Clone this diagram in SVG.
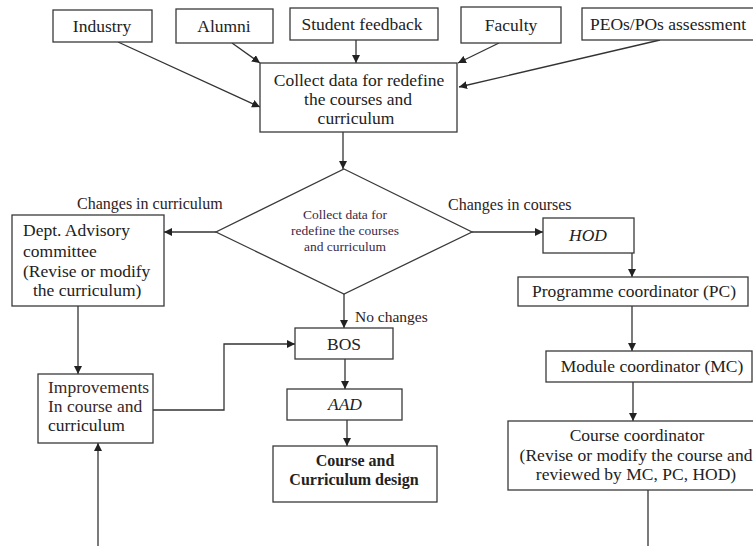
<svg xmlns="http://www.w3.org/2000/svg" width="753" height="546" viewBox="0 0 753 546">
<defs>
<marker id="ah" markerUnits="userSpaceOnUse" markerWidth="9" markerHeight="8" refX="8" refY="4" orient="auto">
<path d="M0,0 L8,4 L0,8 z" fill="#222"/>
</marker>
<style>
.box{fill:#fff;stroke:#3a3a3a;stroke-width:1.3}
.t{font-family:"Liberation Serif","Times New Roman",serif;font-size:17.5px;fill:#222}
.c{text-anchor:middle}
.lbl{font-family:"Liberation Serif","Times New Roman",serif;font-size:16px;fill:#2e2222}
.dt{font-family:"Liberation Serif","Times New Roman",serif;font-size:13.5px;fill:#3a2a48;text-anchor:middle}
.it{font-style:italic}
.b{font-weight:bold;font-size:16px}
.ln{fill:none;stroke:#333;stroke-width:1.3}
.ar{marker-end:url(#ah)}
</style>
</defs>
<rect width="753" height="546" fill="#fff"/>

<g id="connectors">
<line class="ln ar" x1="118" y1="42" x2="260" y2="107"/>
<line class="ln ar" x1="232" y1="43" x2="260" y2="63"/>
<line class="ln ar" x1="356" y1="40" x2="356" y2="63"/>
<line class="ln ar" x1="499" y1="43" x2="458" y2="63"/>
<line class="ln ar" x1="660" y1="40" x2="459" y2="87"/>
<line class="ln ar" x1="343" y1="132" x2="343" y2="169"/>
<line class="ln ar" x1="216" y1="232" x2="164" y2="232"/>
<line class="ln ar" x1="472" y1="232" x2="543" y2="232"/>
<line class="ln ar" x1="344" y1="294" x2="344" y2="328"/>
<line class="ln ar" x1="632" y1="253" x2="632" y2="277"/>
<line class="ln ar" x1="632" y1="306" x2="632" y2="351"/>
<line class="ln ar" x1="633" y1="382" x2="633" y2="421"/>
<line class="ln" x1="648" y1="490" x2="648" y2="546"/>
<line class="ln ar" x1="78" y1="306" x2="78" y2="374"/>
<polyline class="ln ar" points="153,410 224,410 224,344 295,344"/>
<line class="ln ar" x1="98" y1="546" x2="98" y2="443"/>
<line class="ln ar" x1="345" y1="359" x2="345" y2="389"/>
<line class="ln ar" x1="347" y1="420" x2="347" y2="446"/>
</g>

<g id="industry"><rect class="box" x="53" y="10" width="99" height="32"/><text class="t c" x="102" y="32">Industry</text></g>
<g id="alumni"><rect class="box" x="176" y="9" width="97" height="34"/><text class="t c" x="224" y="32">Alumni</text></g>
<g id="student-feedback"><rect class="box" x="290" y="8" width="148" height="32"/><text class="t c" x="362" y="30">Student feedback</text></g>
<g id="faculty"><rect class="box" x="461" y="7" width="100" height="36"/><text class="t c" x="511" y="31">Faculty</text></g>
<g id="peos"><rect class="box" x="582" y="8" width="180" height="32"/><text class="t" x="590" y="30">PEOs/POs assessment</text></g>

<g id="collect"><rect class="box" x="260" y="63" width="197" height="69"/>
<text class="t c" x="359" y="86">Collect data for redefine</text>
<text class="t c" x="358" y="105">the courses and</text>
<text class="t c" x="356" y="124">curriculum</text></g>

<g id="decision"><polygon class="box" points="344,169 472,232 344,294 216,232"/>
<text class="dt" x="345" y="219">Collect data for</text>
<text class="dt" x="345" y="235">redefine the courses</text>
<text class="dt" x="345" y="251">and curriculum</text></g>

<g id="labels">
<text class="lbl" x="77" y="209">Changes in curriculum</text>
<text class="lbl" x="448" y="210">Changes in courses</text>
<text class="lbl" x="355" y="322" style="font-size:15.5px">No changes</text>
</g>

<g id="dept"><rect class="box" x="12" y="215" width="152" height="91"/>
<text class="t" x="23" y="236">Dept. Advisory</text>
<text class="t" x="23" y="257">committee</text>
<text class="t" x="23" y="277">(Revise or modify</text>
<text class="t" x="33" y="296">the curriculum)</text></g>

<g id="improvements"><rect class="box" x="38" y="374" width="115" height="69"/>
<text class="t" x="48" y="393" style="fill:#3a2626">Improvements</text>
<text class="t" x="48" y="412" style="fill:#3a2626">In course and</text>
<text class="t" x="48" y="431">curriculum</text></g>

<g id="bos"><rect class="box" x="295" y="328" width="98" height="31"/><text class="t c" x="344" y="350">BOS</text></g>
<g id="aad"><rect class="box" x="287" y="389" width="115" height="31"/><text class="t c it" x="345" y="410">AAD</text></g>
<g id="design"><rect class="box" x="273" y="446" width="164" height="56"/>
<text class="t c b" x="355" y="466">Course and</text>
<text class="t c b" x="354" y="485">Curriculum design</text></g>

<g id="hod"><rect class="box" x="543" y="218" width="91" height="35"/><text class="t c it" x="588" y="241">HOD</text></g>
<g id="pc"><rect class="box" x="518" y="277" width="230" height="29"/><text class="t c" x="634" y="297">Programme coordinator (PC)</text></g>
<g id="mc"><rect class="box" x="546" y="351" width="206" height="31"/><text class="t c" x="652" y="372">Module coordinator (MC)</text></g>
<g id="cc"><rect class="box" x="508" y="421" width="256" height="69"/>
<text class="t c" x="637" y="441">Course coordinator</text>
<text class="t c" x="636" y="461">(Revise or modify the course and</text>
<text class="t c" x="636" y="480">reviewed by MC, PC, HOD)</text></g>
</svg>
